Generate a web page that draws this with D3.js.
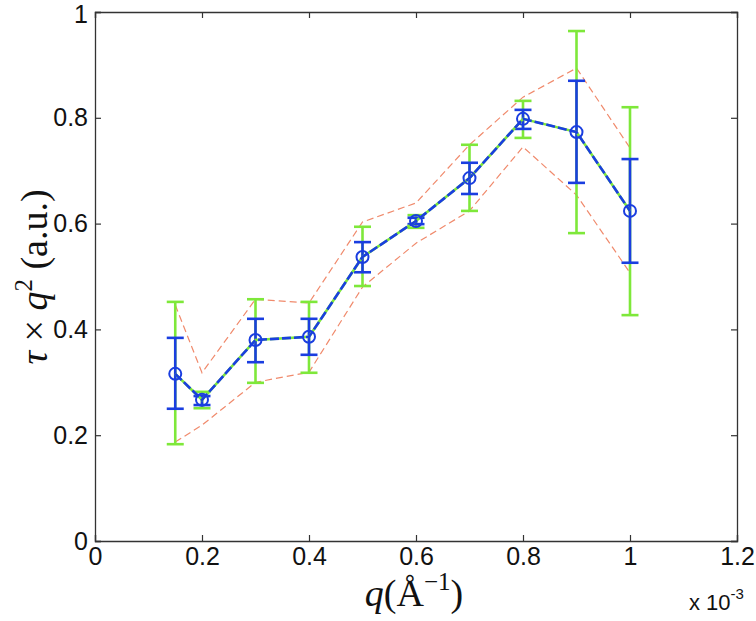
<!DOCTYPE html>
<html><head><meta charset="utf-8">
<script src="https://cdn.jsdelivr.net/npm/d3@7/dist/d3.min.js"></script>
<style>body{margin:0;background:#fff}</style>
</head><body>
<svg id="chart" width="756" height="621"></svg>
<script>
const qValues = [0.15, 0.2, 0.3, 0.4, 0.5, 0.6, 0.7, 0.8, 0.9, 1.0];
const meanValues = [0.316, 0.267, 0.380, 0.386, 0.537, 0.605, 0.686, 0.798, 0.773, 0.624];
const blueUpper = [0.384, 0.274, 0.420, 0.420, 0.565, 0.611, 0.715, 0.815, 0.870, 0.722];
const blueLower = [0.250, 0.257, 0.338, 0.352, 0.508, 0.599, 0.656, 0.779, 0.677, 0.526];
const greenUpper = [0.452, 0.282, 0.457, 0.452, 0.594, 0.616, 0.749, 0.832, 0.964, 0.820];
const greenLower = [0.183, 0.251, 0.299, 0.318, 0.482, 0.592, 0.624, 0.762, 0.582, 0.427];
const redUpper = [0.446, 0.318, 0.457, 0.450, 0.603, 0.639, 0.749, 0.839, 0.894, 0.743];
const redLower = [0.187, 0.219, 0.300, 0.319, 0.480, 0.563, 0.624, 0.745, 0.654, 0.507];
const xTicks = [0, 0.2, 0.4, 0.6, 0.8, 1, 1.2];
const yTicks = [0, 0.2, 0.4, 0.6, 0.8, 1];

const svg = d3.select("#chart");
const L = 95, R = 737, T = 12, B = 541;
const x = d3.scaleLinear().domain([0, 1.2]).range([L, R]);
const y = d3.scaleLinear().domain([0, 1]).range([B, T]);
const axisColor = "#333";
const fmt = d => d === 0 ? "0" : String(d);
const sans = "'Liberation Sans', Arial, sans-serif";

// axes
const gx = svg.append("g").attr("transform", `translate(0,${B})`)
  .call(d3.axisBottom(x).tickValues(xTicks).tickSize(-6).tickPadding(6).tickFormat(fmt));
const gy = svg.append("g").attr("transform", `translate(${L},0)`)
  .call(d3.axisLeft(y).tickValues(yTicks).tickSize(-6).tickPadding(7).tickFormat(fmt));
const gxt = svg.append("g").attr("transform", `translate(0,${T})`)
  .call(d3.axisTop(x).tickValues(xTicks).tickSize(-6).tickFormat(""));
const gyr = svg.append("g").attr("transform", `translate(${R},0)`)
  .call(d3.axisRight(y).tickValues(yTicks).tickSize(-6).tickFormat(""));
[gx, gy, gxt, gyr].forEach(g => {
  g.select(".domain").attr("stroke", axisColor).attr("stroke-width", 1.3);
  g.selectAll(".tick line").attr("stroke", axisColor).attr("stroke-width", 1.2);
  g.selectAll(".tick text").attr("fill", "#111").style("font-family", sans).style("font-size", "25px");
});
gx.selectAll(".tick text").attr("dy", "0.71em");
// keep the top "1" label inside the canvas
gy.selectAll(".tick text").filter(d => d === 1).attr("dy", "0.4em");

const pts = qValues.map((q, i) => ({q, m: meanValues[i], bu: blueUpper[i], bl: blueLower[i], gu: greenUpper[i], gl: greenLower[i], ru: redUpper[i], rl: redLower[i]}));

// red dashed bounds
const redColor = "#f08a6c";
["ru", "rl"].forEach(k => {
  svg.append("path").datum(pts)
    .attr("d", d3.line().x(d => x(d.q)).y(d => y(d[k])))
    .attr("fill", "none").attr("stroke", redColor).attr("stroke-width", 1.2)
    .attr("stroke-dasharray", "7,4");
});

// error bars
function errBars(up, lo, color, cap, w) {
  const g = svg.append("g").attr("stroke", color).attr("stroke-width", w).attr("fill", "none");
  g.selectAll("line.v").data(pts).join("line").attr("class", "v")
    .attr("x1", d => x(d.q)).attr("x2", d => x(d.q)).attr("y1", d => y(d[up])).attr("y2", d => y(d[lo]));
  [up, lo].forEach(k => {
    g.selectAll("line.c" + k).data(pts).join("line").attr("class", "c" + k)
      .attr("x1", d => x(d.q) - cap).attr("x2", d => x(d.q) + cap)
      .attr("y1", d => y(d[k])).attr("y2", d => y(d[k]));
  });
}
const greenColor = "#7ee83a";
const blueColor = "#1a3ee0";
errBars("gu", "gl", greenColor, 8.5, 2.6);
errBars("bu", "bl", blueColor, 8.5, 2.6);

// main line: green under blue dashes
const mainLine = d3.line().x(d => x(d.q)).y(d => y(d.m));
svg.append("path").datum(pts).attr("d", mainLine).attr("fill", "none")
  .attr("stroke", greenColor).attr("stroke-width", 2.6);
svg.append("path").datum(pts).attr("d", mainLine).attr("fill", "none")
  .attr("stroke", blueColor).attr("stroke-width", 2.6).attr("stroke-dasharray", "9,3");

svg.append("g").selectAll("circle").data(pts).join("circle")
  .attr("cx", d => x(d.q)).attr("cy", d => y(d.m)).attr("r", 6)
  .attr("fill", "none").attr("stroke", blueColor).attr("stroke-width", 2);

// labels
const serif = "'Liberation Serif', 'DejaVu Serif', serif";
const ylab = svg.append("text").attr("transform", "translate(47,277) rotate(-90)")
  .attr("text-anchor", "middle").style("font-family", serif).style("font-size", "38px").attr("fill", "#111");
ylab.append("tspan").style("font-style", "italic").text("τ");
ylab.append("tspan").text(" × ");
ylab.append("tspan").style("font-style", "italic").text("q");
ylab.append("tspan").attr("dy", "-15").style("font-size", "25px").text("2");
ylab.append("tspan").attr("dy", "15").text(" (a.u.)");

const xlab = svg.append("text").attr("x", 414).attr("y", 606)
  .attr("text-anchor", "middle").style("font-family", serif).style("font-size", "38px").attr("fill", "#111");
xlab.append("tspan").style("font-style", "italic").text("q");
xlab.append("tspan").text("(Å");
xlab.append("tspan").attr("dy", "-16").style("font-size", "25px").text("−1");
xlab.append("tspan").attr("dy", "16").text(")");

const mult = svg.append("text").attr("x", 689).attr("y", 610)
  .style("font-family", sans).style("font-size", "22px").attr("fill", "#111");
mult.append("tspan").text("x 10");
mult.append("tspan").attr("dy", "-11").style("font-size", "15px").text("-3");
</script>
</body></html>
